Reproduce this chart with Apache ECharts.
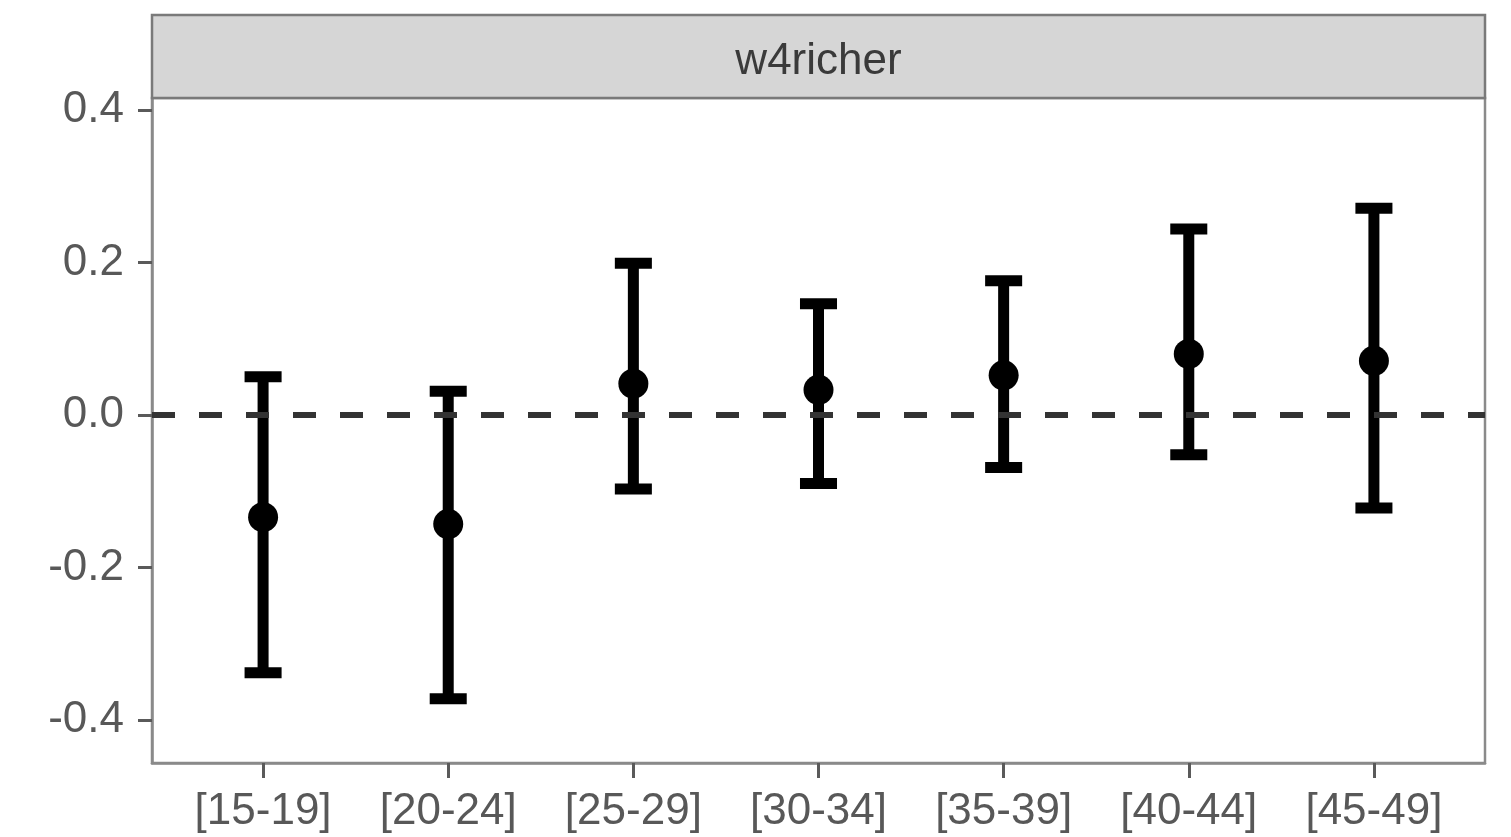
<!DOCTYPE html>
<html>
<head>
<meta charset="utf-8">
<script src="https://cdn.jsdelivr.net/npm/echarts@6/dist/echarts.min.js"></script>
<style>
html,body{margin:0;padding:0;background:#fff;}
#chart{width:1511px;height:837px;}
</style>
</head>
<body>
<div id="chart"></div>
<script>
const panelTitle = 'w4richer';
const categories = ['[15-19]','[20-24]','[25-29]','[30-34]','[35-39]','[40-44]','[45-49]'];
const estimates = [-0.134, -0.143, 0.041, 0.033, 0.052, 0.080, 0.071];
const lowerCI  = [-0.338, -0.372, -0.097, -0.090, -0.069, -0.052, -0.122];
const upperCI  = [0.050, 0.031, 0.199, 0.146, 0.176, 0.244, 0.271];
const yTicks = [-0.4, -0.2, 0.0, 0.2, 0.4];
const xTicks = categories.map((c, i) => i);

const FONT = "'Liberation Sans', Arial, sans-serif";
const TEXT = '#585858';
const BORDER = '#8a8a8a';

const chart = echarts.init(document.getElementById('chart'), null, {renderer: 'canvas'});

const grid = {left: 152, top: 98, right: 26, bottom: 74};

const option = {
  animation: false,
  backgroundColor: '#ffffff',
  grid: Object.assign({show: true, borderColor: BORDER, borderWidth: 2.5, backgroundColor: '#fff'}, grid),
  xAxis: {
    type: 'value',
    min: -0.6, max: 6.6,
    splitLine: {show: false},
    axisLine: {show: true, onZero: false, lineStyle: {color: BORDER, width: 2.5}},
    axisTick: {show: true, length: 15, lineStyle: {color: '#5a5a5a', width: 3}, customValues: xTicks},
    axisLabel: {
      customValues: xTicks,
      margin: 27,
      color: TEXT, fontFamily: FONT, fontSize: 44,
      formatter: v => categories[Math.round(v)]
    }
  },
  yAxis: {
    type: 'value',
    min: -0.4564, max: 0.4157,
    splitLine: {show: false},
    axisLine: {show: true, onZero: false, lineStyle: {color: BORDER, width: 2.5}},
    axisTick: {show: true, length: 14, lineStyle: {color: '#5a5a5a', width: 3}, customValues: yTicks},
    axisLabel: {
      customValues: yTicks,
      margin: 28,
      color: TEXT, fontFamily: FONT, fontSize: 44,
      formatter: v => v.toFixed(1)
    }
  },
  graphic: [
    {
      type: 'rect',
      shape: {x: 152, y: 15, width: 1333, height: 83},
      style: {fill: '#d6d6d6', stroke: '#7a7a7a', lineWidth: 2.5},
      z: 10
    },
    {
      type: 'text',
      x: 818.5, y: 62,
      style: {text: panelTitle, fill: '#3a3a3a', font: '44px ' + FONT, textAlign: 'center', textVerticalAlign: 'middle'},
      z: 11
    }
  ],
  series: [
    {
      type: 'line',
      data: [],
      z: 1,
      markLine: {
        silent: true,
        symbol: ['none', 'none'],
        label: {show: false},
        lineStyle: {color: '#333', width: 6, type: [23, 24]},
        data: [{yAxis: 0}]
      }
    },
    {
      type: 'custom',
      data: categories.map((c, i) => [i, lowerCI[i], upperCI[i]]),
      renderItem: function (params, api) {
        const x = api.value(0);
        const pLo = api.coord([x, api.value(1)]);
        const pHi = api.coord([x, api.value(2)]);
        const half = api.size([0.2, 0])[0] / 2;
        const style = {stroke: '#000', lineWidth: 11, lineCap: 'butt'};
        return {
          type: 'group',
          children: [
            {type: 'line', shape: {x1: pLo[0], y1: pLo[1], x2: pHi[0], y2: pHi[1]}, style: style},
            {type: 'line', shape: {x1: pHi[0] - half, y1: pHi[1], x2: pHi[0] + half, y2: pHi[1]}, style: style},
            {type: 'line', shape: {x1: pLo[0] - half, y1: pLo[1], x2: pLo[0] + half, y2: pLo[1]}, style: style}
          ]
        };
      },
      z: 2
    },
    {
      type: 'scatter',
      data: categories.map((c, i) => [i, estimates[i]]),
      symbol: 'circle',
      symbolSize: 30,
      itemStyle: {color: '#000', opacity: 1},
      z: 3
    }
  ]
};

chart.setOption(option);
</script>
</body>
</html>
